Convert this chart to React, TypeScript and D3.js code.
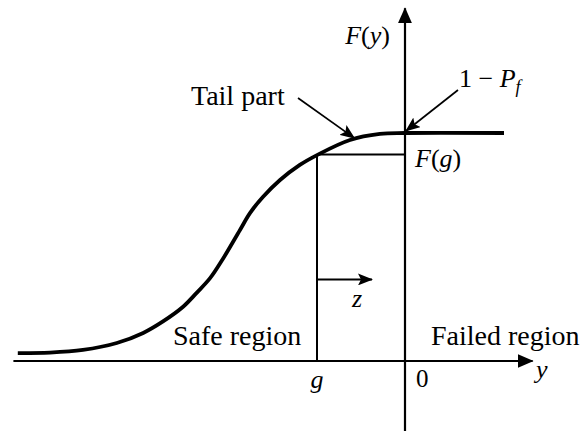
import React from 'react';
import * as d3 from 'd3';

// CDF curve: y values and F(y)
const curveY = [-8.8, -8.07, -7.32, -6.55, -5.95, -5.5, -5.05, -4.73, -4.43, -4.14, -3.75, -3.52, -3.23, -2.84, -2.39, -2.0, -1.25, -0.57, 0, 2.25];
const curveF = [0.033, 0.035, 0.046, 0.075, 0.117, 0.165, 0.225, 0.285, 0.345, 0.425, 0.546, 0.617, 0.683, 0.754, 0.817, 0.858, 0.921, 0.946, 0.95, 0.95];

const gValue = -2;
const fOfG = 0.86;
const failProb = 0.05;
const zLevel = 0.34;
const zEnd = -0.75;
const tailTipY = -1.15;

const textLabels = ['Tail part', 'Safe region', 'Failed region'];

function App() {
    const width = 581;
    const height = 431;

    const xScale = d3.scaleLinear().domain([-9, 3]).range([9, 537]);
    const yScale = d3.scaleLinear().domain([0, 1]).range([361, 121]);

    const line = d3.line<number>()
        .x((d, i) => xScale(curveY[i]))
        .y(d => yScale(d))
        .curve(d3.curveCatmullRom.alpha(0.5));

    const fAt = d3.scaleLinear().domain(curveY).range(curveF);

    const x0 = xScale(0);
    const y0 = yScale(0);
    const xg = xScale(gValue);
    const yg = yScale(fOfG);
    const yTop = yScale(1 - failProb);

    const serif = { fontFamily: "'Liberation Serif', 'Times New Roman', 'DejaVu Serif', serif" };

    return (
        <svg width={width} height={height} style={{ position: 'absolute', left: 0, top: 0, background: '#fff' }}>
            <defs>
                <marker id="axisHead" viewBox="0 0 16 14" refX="15" refY="7" markerWidth="16" markerHeight="14" orient="auto" markerUnits="userSpaceOnUse">
                    <path d="M0,0L16,7L0,14Z" fill="#000" />
                </marker>
                <marker id="smallHead" viewBox="0 0 15 12" refX="14" refY="6" markerWidth="15" markerHeight="12" orient="auto" markerUnits="userSpaceOnUse">
                    <path d="M0,0L15,6L0,12L3,6Z" fill="#000" />
                </marker>
            </defs>

            {/* axes */}
            <line x1={xScale(-8.9)} y1={y0} x2={xScale(2.9)} y2={y0} stroke="#000" strokeWidth={2.2} markerEnd="url(#axisHead)" />
            <line x1={x0} y1={yScale(-0.35)} x2={x0} y2={yScale(1.47)} stroke="#000" strokeWidth={2.2} markerEnd="url(#axisHead)" />

            {/* g guide lines */}
            <line x1={xg} y1={y0} x2={xg} y2={yg} stroke="#000" strokeWidth={2} />
            <line x1={xg} y1={yg} x2={x0} y2={yg} stroke="#000" strokeWidth={2} />

            {/* z arrow */}
            <line x1={xg} y1={yScale(zLevel)} x2={xScale(zEnd)} y2={yScale(zLevel)} stroke="#000" strokeWidth={2} markerEnd="url(#smallHead)" />

            {/* CDF curve */}
            <path d={line(curveF) || ''} fill="none" stroke="#000" strokeWidth={3.8} strokeLinejoin="round" />

            {/* pointer arrows */}
            <line x1={298} y1={98} x2={xScale(tailTipY)} y2={yScale(fAt(tailTipY)) - 1} stroke="#000" strokeWidth={1.7} markerEnd="url(#smallHead)" />
            <line x1={458} y1={90} x2={x0 + 1} y2={yTop - 2} stroke="#000" strokeWidth={1.7} markerEnd="url(#smallHead)" />

            {/* text labels */}
            <g style={serif} fontSize={28} fill="#000">
                <text style={serif} x={191} y={105}>{textLabels[0]}</text>
                <text style={serif} x={173} y={345}>{textLabels[1]}</text>
                <text style={serif} x={431} y={345}>{textLabels[2]}</text>
            </g>

            {/* math labels */}
            <g style={serif} fontSize={26} fill="#000">
                <text style={serif} x={390} y={44} textAnchor="end">
                    <tspan fontStyle="italic">F</tspan>(<tspan fontStyle="italic">y</tspan>)
                </text>
                <text style={serif} x={459} y={87}>
                    1 − <tspan fontStyle="italic">P</tspan><tspan fontStyle="italic" fontSize={18} dy={6}>f</tspan>
                </text>
                <text style={serif} x={415} y={167}>
                    <tspan fontStyle="italic">F</tspan>(<tspan fontStyle="italic">g</tspan>)
                </text>
                <text style={serif} x={xScale(zEnd) - 15} y={307} textAnchor="middle" fontStyle="italic">z</text>
                <text style={serif} x={xg} y={388} textAnchor="middle" fontStyle="italic">g</text>
                <text style={serif} x={x0 + 11} y={387} fontSize={25}>0</text>
                <text style={serif} x={536} y={378} fontStyle="italic">y</text>
            </g>
        </svg>
    );
}

export default App;
